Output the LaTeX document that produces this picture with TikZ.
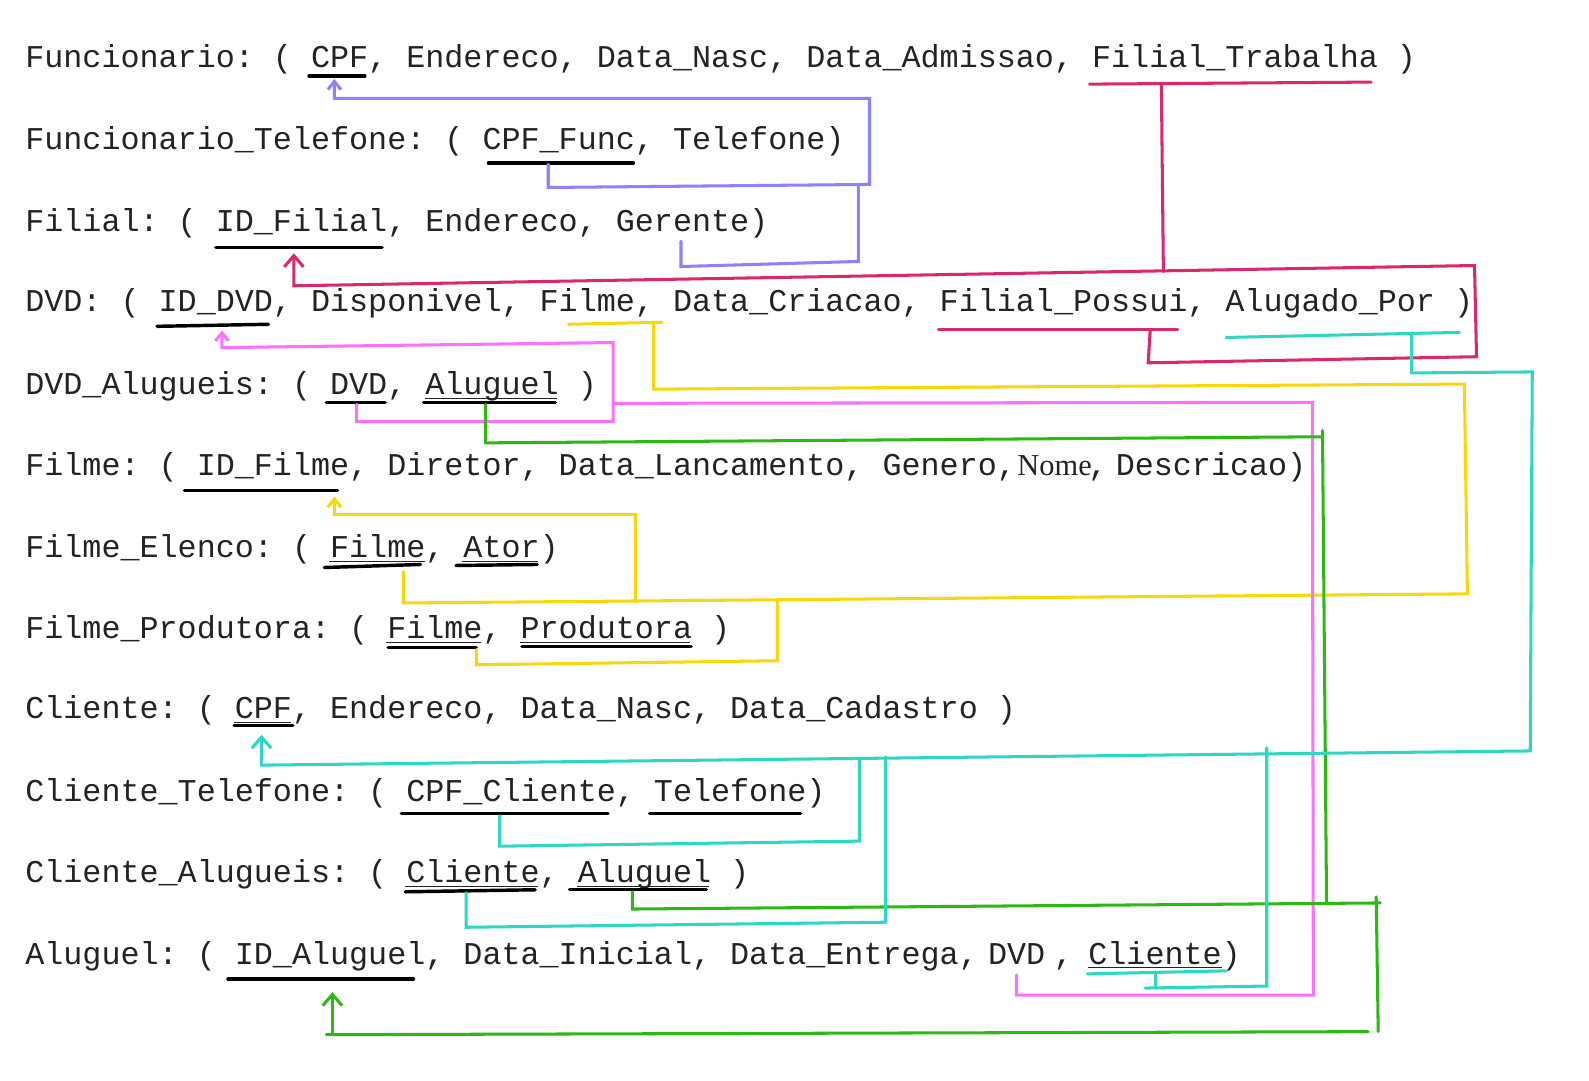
\documentclass[tikz,border=0pt]{standalone}
\usepackage{fontspec}
\usetikzlibrary{arrows.meta}
\newfontfamily\monofam{Liberation Mono}
\newfontfamily\seriffam{Liberation Serif}

\definecolor{ink}{RGB}{35,35,35}
\definecolor{lav}{RGB}{140,130,255}
\definecolor{crim}{RGB}{217,40,110}
\definecolor{yel}{RGB}{250,215,10}
\definecolor{pnk}{RGB}{255,112,255}
\definecolor{grn}{RGB}{45,185,20}
\definecolor{tea}{RGB}{45,215,195}

\tikzset{
  rel/.style={anchor=base west, inner sep=0pt, outer sep=0pt, text=ink,
              font=\monofam\fontsize{31.33}{36}\selectfont\frenchspacing},
  relserif/.style={anchor=base west, inner sep=0pt, outer sep=0pt, text=ink,
              font=\seriffam\fontsize{30}{34}\selectfont},
  keyline/.style={line width=3.4pt, draw=black, line cap=round},
  ulthin/.style={line width=1.3pt, draw=ink},
  fk/.style={line width=3pt, line cap=round, line join=miter},
  tipS/.style={-{Straight Barb[length=8pt,width=13pt]}},
  tipL/.style={-{Straight Barb[length=11pt,width=19pt]}},
}

\begin{document}
\begin{tikzpicture}[x=1pt,y=-1pt]
\fill[white] (0,0) rectangle (1568,1066);
\useasboundingbox (0,0) rectangle (1568,1066);

% ---- relations ----
\node[rel] (rFunc)    at (25,67)  {Funcionario: ( CPF, Endereco, Data\_Nasc, Data\_Admissao, Filial\_Trabalha )};
\node[rel] (rFuncTel) at (25,148) {Funcionario\_Telefone: ( CPF\_Func, Telefone)};
\node[rel] (rFilial)  at (25,228) {Filial: ( ID\_Filial, Endereco, Gerente)};
\node[rel] (rDVD)     at (25,307) {DVD: ( ID\_DVD, Disponivel, Filme, Data\_Criacao, Filial\_Possui, Alugado\_Por )};
\node[rel] (rDVDAlu)  at (25,389) {DVD\_Alugueis: ( DVD, Aluguel )};
\node[rel] (rFilme)   at (25,469) {Filme: ( ID\_Filme, Diretor, Data\_Lancamento, Genero,};
\node[relserif] (rFilmeNome) at (1004,469) {Nome};
\node[rel] (rFilmeComma) at (1074,469) {,};
\node[rel] (rFilmeDesc)  at (1101,469) {Descricao)};
\node[rel] (rElenco)  at (25,550) {Filme\_Elenco: ( Filme, Ator)};
\node[rel] (rProd)    at (25,630) {Filme\_Produtora: ( Filme, Produtora )};
\node[rel] (rCli)     at (25,709) {Cliente: ( CPF, Endereco, Data\_Nasc, Data\_Cadastro )};
\node[rel] (rCliTel)  at (25,791) {Cliente\_Telefone: ( CPF\_Cliente, Telefone)};
\node[rel] (rCliAlu)  at (25,871) {Cliente\_Alugueis: ( Cliente, Aluguel )};
\node[rel] (rAlug)    at (25,952) {Aluguel: ( ID\_Aluguel, Data\_Inicial, Data\_Entrega,};
\node[rel] (rAlugDVD) at (975,952) {DVD};
\node[rel] (rAlugComma) at (1040,952) {,};
\node[rel] (rAlugCli) at (1074,952) {Cliente)};

% ---- thin text underlines ----
\draw[ulthin] (419,393) -- (550,393);
\draw[ulthin] (325,554) -- (419,554) (456,554) -- (531,554);
\draw[ulthin] (381,634) -- (475,634) (513,634) -- (681,634);
\draw[ulthin] (231,713) -- (287,713);
\draw[ulthin] (400,875) -- (531,875) (569,875) -- (700,875);
\draw[ulthin] (1074,955) -- (1206,955);

% ---- key underlines ----
\draw[keyline] (305,75) -- (360,75);
\draw[keyline] (482,161) -- (625,161);
\draw[keyline] (213,244) -- (377,244);
\draw[keyline] (155,322) -- (265,320);
\draw[keyline] (322,397) -- (380,397);
\draw[keyline] (418,397) -- (548,397);
\draw[keyline] (182,484) -- (333,484);
\draw[keyline] (320,560) -- (415,557);
\draw[keyline] (450,558) -- (530,557);
\draw[keyline] (383,639) -- (470,639);
\draw[keyline] (515,638) -- (682,638);
\draw[keyline] (231,716) -- (289,716);
\draw[keyline] (396,803) -- (600,803);
\draw[keyline] (641,803) -- (790,803);
\draw[keyline] (400,880) -- (528,878);
\draw[keyline] (562,878) -- (697,878);
\draw[keyline] (225,966) -- (408,966);

% ---- Funcionario references (lavender) ----
\draw[fk,lav,tipS] (541,162) -- (541,185) -- (858,182) -- (858,97) -- (330,97) -- (330,78);
\draw[fk,lav] (672,238) -- (672,263) -- (847,258) -- (847,182);

% ---- Filial references (crimson) ----
\draw[fk,crim] (1075,83) -- (1353,81);
\draw[fk,crim] (926,325) -- (1162,325);
\draw[fk,crim,tipL] (1135,326) -- (1133,358) -- (1457,352) -- (1455,262) -- (290,282) -- (290,250);
\draw[fk,crim] (1146,83) -- (1148,268);

% ---- Filme references (yellow) ----
\draw[fk,yel] (561,320) -- (653,318);
\draw[fk,yel] (645,319) -- (645,384) -- (1445,379) -- (1448,586) -- (398,595) -- (398,564);
\draw[fk,yel,tipS] (627,594) -- (627,508) -- (330,508) -- (330,490);
\draw[fk,yel] (767,594) -- (767,652) -- (470,656) -- (470,641);

% ---- DVD references (pink) ----
\draw[fk,pnk,tipS] (352,399) -- (352,416) -- (605,416) -- (605,338) -- (219,343) -- (219,326);
\draw[fk,pnk] (605,398) -- (1295,397) -- (1296,982) -- (1003,982) -- (1003,962);

% ---- Aluguel references (green) ----
\draw[fk,grn] (479,399) -- (479,437) -- (1303,431);
\draw[fk,grn] (1305,425) -- (1309,890);
\draw[fk,grn] (624,880) -- (624,897) -- (1362,891);
\draw[fk,grn] (1358,885) -- (1360,1018);
\draw[fk,grn] (1350,1018) -- (322,1021);
\draw[fk,grn,tipL] (328,1021) -- (328,979);

% ---- Cliente references (teal) ----
\draw[fk,tea] (1210,333) -- (1440,328);
\draw[fk,tea] (1073,961) -- (1210,958);
\draw[fk,tea,tipL] (1393,330) -- (1393,368) -- (1512,367) -- (1510,741) -- (258,755) -- (258,725);
\draw[fk,tea] (493,805) -- (493,835) -- (848,830) -- (848,749);
\draw[fk,tea] (460,881) -- (460,915) -- (874,910) -- (874,747);
\draw[fk,tea] (1140,959) -- (1140,975);
\draw[fk,tea] (1130,975) -- (1250,973) -- (1250,738);
\end{tikzpicture}
\end{document}
